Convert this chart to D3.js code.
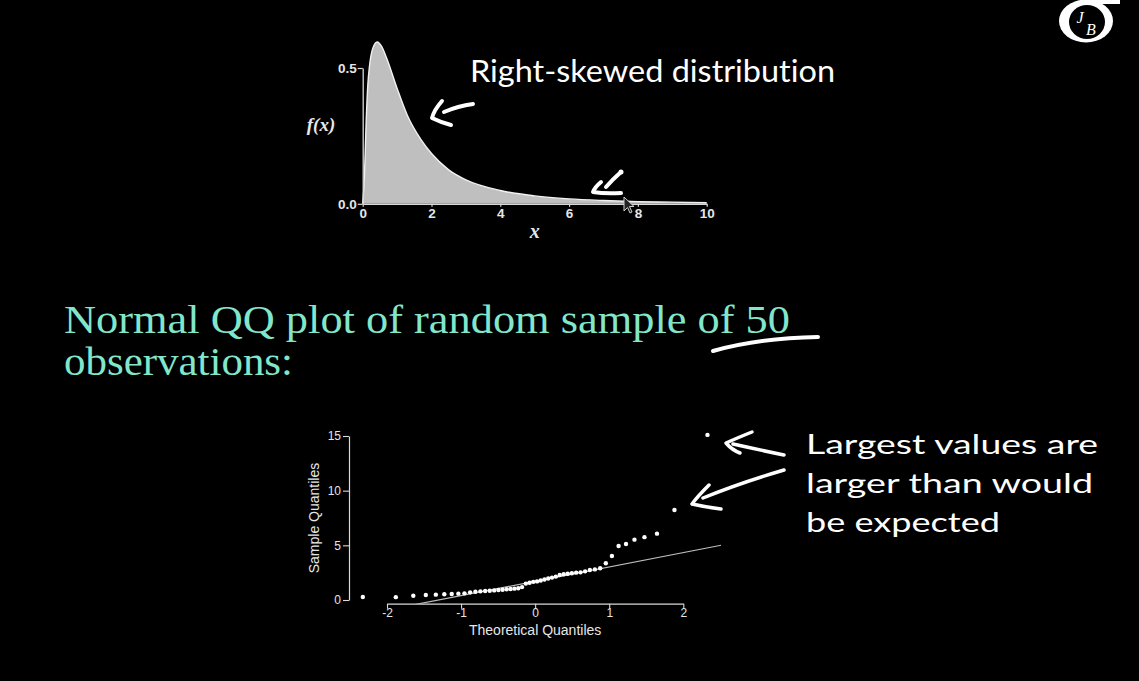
<!DOCTYPE html>
<html>
<head>
<meta charset="utf-8">
<script src="https://cdn.jsdelivr.net/npm/d3@7"></script>
<style>
  html, body { margin: 0; padding: 0; background: #000; }
  svg { display: block; }
</style>
</head>
<body>
<svg id="chart" width="1139" height="681"></svg>
<script>
// ---------- DATA ----------
// Top panel: right-skewed density
const densityX = [0, 0.05, 0.1, 0.15, 0.2, 0.3, 0.42, 0.55, 0.7, 1.0, 1.3, 1.7, 2.0, 2.5, 3.0, 4.0, 5.0, 6.0, 7.0, 8.0, 9.0, 10.0];
const densityY = [0, 0.10, 0.30, 0.44, 0.51, 0.575, 0.596, 0.58, 0.535, 0.425, 0.325, 0.235, 0.185, 0.125, 0.088, 0.049, 0.029, 0.018, 0.012, 0.008, 0.006, 0.004];
const topXTicks = [0, 2, 4, 6, 8, 10];
const topYTicks = [0.0, 0.5];

// Bottom panel: normal QQ plot of 50 observations
const theoreticalQ = [-2.3263, -1.8808, -1.6449, -1.4758, -1.3408, -1.2265, -1.1264, -1.0364, -0.9542, -0.8779,
  -0.8064, -0.7388, -0.6745, -0.6128, -0.5534, -0.4959, -0.4399, -0.3853, -0.3319, -0.2793,
  -0.2275, -0.1764, -0.1257, -0.0753, -0.0251, 0.0251, 0.0753, 0.1257, 0.1764, 0.2275,
  0.2793, 0.3319, 0.3853, 0.4399, 0.4959, 0.5534, 0.6128, 0.6745, 0.7388, 0.8064,
  0.8779, 0.9542, 1.0364, 1.1264, 1.2265, 1.3408, 1.4758, 1.6449, 1.8808, 2.3263];
const sampleQ = [0.28, 0.26, 0.39, 0.46, 0.49, 0.52, 0.55, 0.58, 0.61, 0.70,
  0.76, 0.79, 0.82, 0.85, 0.88, 0.91, 0.94, 0.98, 1.01, 1.04,
  1.07, 1.18, 1.50, 1.58, 1.66, 1.70, 1.78, 1.88, 1.96, 2.05,
  2.14, 2.28, 2.35, 2.40, 2.45, 2.50, 2.53, 2.62, 2.74, 2.80,
  2.90, 3.36, 4.03, 4.94, 5.12, 5.52, 5.75, 6.07, 8.23, 15.1];
const qqXTicks = [-2, -1, 0, 1, 2];
const qqYTicks = [0, 5, 10, 15];
const quartileProbs = [0.25, 0.75];
const quartileNormal = [-0.6745, 0.6745];

// Texts
const topTitle = "Right-skewed distribution";
const heading = ["Normal QQ plot of random sample of 50", "observations:"];
const note = ["Largest values are", "larger than would", "be expected"];

// ---------- DRAW ----------
const svg = d3.select("#chart");
svg.append("rect").attr("width", 1139).attr("height", 681).attr("fill", "#000");

const axisColor = "#d9d9d9";
const tickColor = "#e6e6e6";
const labelFont = "Liberation Sans, Arial, sans-serif";

// ===== Top panel =====
const xT = d3.scaleLinear().domain([0, 10]).range([362.7, 706.7]);
const yT = d3.scaleLinear().domain([0, 0.5]).range([203.8, 68]);
const dens = densityX.map((x, i) => ({x, y: densityY[i]}));

svg.append("path")
  .datum(dens)
  .attr("d", d3.area().x(d => xT(d.x)).y0(yT(0)).y1(d => yT(d.y)).curve(d3.curveMonotoneX))
  .attr("fill", "#bfbfbf");
svg.append("path")
  .datum(dens)
  .attr("d", d3.line().x(d => xT(d.x)).y(d => yT(d.y)).curve(d3.curveMonotoneX))
  .attr("fill", "none").attr("stroke", "#f2f2f2").attr("stroke-width", 1.4);

const gTX = svg.append("g").attr("transform", `translate(0,${yT(0)})`)
  .call(d3.axisBottom(xT).tickValues(topXTicks).tickSize(3).tickSizeOuter(0).tickFormat(d3.format("d")));
const gTY = svg.append("g").attr("transform", `translate(${xT(0)},0)`)
  .call(d3.axisLeft(yT).tickValues(topYTicks).tickSize(5).tickSizeOuter(0).tickFormat(d3.format(".1f")));
[gTX, gTY].forEach(g => {
  g.attr("font-size", null).attr("font-family", null);
  g.selectAll("path.domain").attr("stroke", axisColor).attr("stroke-width", 1.3);
  g.selectAll(".tick line").attr("stroke", axisColor).attr("stroke-width", 1.2);
  g.selectAll(".tick text").attr("fill", tickColor)
    .style("font-family", labelFont).style("font-size", "13.5px").style("font-weight", "bold");
});
gTX.selectAll(".tick text").attr("y", 4).attr("dy", "0.72em");
gTY.selectAll(".tick text").attr("x", -6);

svg.append("text").attr("x", xT(5)).attr("y", 238).attr("text-anchor", "middle")
  .attr("font-family", "Liberation Serif, serif").attr("font-style", "italic").attr("font-weight", "bold")
  .attr("font-size", 20).attr("fill", "#e8e8e8").text("x");
svg.append("text").attr("x", 321).attr("y", 131).attr("text-anchor", "middle")
  .attr("font-family", "Liberation Serif, serif").attr("font-style", "italic").attr("font-weight", "bold")
  .attr("font-size", 19).attr("fill", "#e8e8e8").text("f(x)");

svg.append("text").attr("x", 470).attr("y", 82)
  .attr("font-family", "Lato, Open Sans, sans-serif").attr("font-size", 30)
  .style("font-variant-ligatures", "none")
  .attr("fill", "#ffffff").attr("textLength", 365).attr("lengthAdjust", "spacingAndGlyphs")
  .text(topTitle);

// ===== Heading =====
heading.forEach((t, i) => {
  svg.append("text").attr("x", 64).attr("y", 333 + i * 42)
    .attr("font-family", "Liberation Serif, Times New Roman, serif").attr("font-size", 41)
    .attr("fill", "#82e6cb")
    .attr("textLength", i === 0 ? 726 : 229).attr("lengthAdjust", "spacingAndGlyphs")
    .text(t);
});

// ===== QQ panel =====
const xQ = d3.scaleLinear().domain([-2, 2]).range([387, 683.3]);
const yQ = d3.scaleLinear().domain([0, 15]).range([600, 436]);
const plotLeft = 349, plotRight = 721.1, plotBottom = 603.7, plotTop = 426;

svg.append("defs").append("clipPath").attr("id", "qqclip")
  .append("rect").attr("x", plotLeft).attr("y", plotTop)
  .attr("width", plotRight - plotLeft).attr("height", plotBottom - plotTop);

// qqline through quartiles
const sorted = sampleQ.slice().sort(d3.ascending);
const q1 = d3.quantileSorted(sorted, quartileProbs[0]);
const q3 = d3.quantileSorted(sorted, quartileProbs[1]);
const slope = (q3 - q1) / (quartileNormal[1] - quartileNormal[0]);
const intercept = q1 - slope * quartileNormal[0];
const lx0 = xQ.invert(plotLeft), lx1 = xQ.invert(plotRight);
svg.append("line")
  .attr("clip-path", "url(#qqclip)")
  .attr("x1", xQ(lx0)).attr("y1", yQ(intercept + slope * lx0))
  .attr("x2", xQ(lx1)).attr("y2", yQ(intercept + slope * lx1))
  .attr("stroke", "#bdbdbd").attr("stroke-width", 1.2);

svg.append("g").selectAll("circle")
  .data(theoreticalQ.map((t, i) => ({t, s: sampleQ[i]})))
  .join("circle")
  .attr("cx", d => xQ(d.t)).attr("cy", d => yQ(d.s)).attr("r", 2.2)
  .attr("fill", "#ffffff");

const gQX = svg.append("g").attr("transform", `translate(0,${plotBottom})`)
  .call(d3.axisBottom(xQ).tickValues(qqXTicks).tickSize(5).tickSizeOuter(0).tickFormat(d => d < 0 ? "-" + Math.abs(d) : String(d)));
const gQY = svg.append("g").attr("transform", `translate(${plotLeft},0)`)
  .call(d3.axisLeft(yQ).tickValues(qqYTicks).tickSize(6).tickSizeOuter(0).tickFormat(d3.format("d")));
[gQX, gQY].forEach(g => {
  g.attr("font-size", null).attr("font-family", null);
  g.selectAll("path.domain").attr("stroke", axisColor).attr("stroke-width", 1.2);
  g.selectAll(".tick line").attr("stroke", axisColor).attr("stroke-width", 1.1);
  g.selectAll(".tick text").attr("fill", tickColor)
    .style("font-family", labelFont).style("font-size", "12px");
});
gQX.selectAll(".tick text").attr("y", 4).attr("dy", "0.74em");
gQY.selectAll(".tick text").attr("x", -8);

svg.append("text").attr("x", xQ(0)).attr("y", 635).attr("text-anchor", "middle")
  .attr("font-family", labelFont).attr("font-size", 14).attr("fill", tickColor)
  .text("Theoretical Quantiles");
svg.append("text").attr("transform", `translate(319,${yQ(7.5)}) rotate(-90)`)
  .attr("text-anchor", "middle").attr("font-family", labelFont).attr("font-size", 14)
  .attr("fill", tickColor).text("Sample Quantiles");

// Annotation text
note.forEach((t, i) => {
  svg.append("text").attr("x", 806).attr("y", 454 + i * 39)
    .attr("font-family", "Lato, Open Sans, sans-serif").attr("font-size", 27)
    .attr("fill", "#ffffff")
    .attr("textLength", [292, 287, 194][i]).attr("lengthAdjust", "spacingAndGlyphs")
    .text(t);
});

// ===== Hand-drawn strokes =====
const ink = svg.append("g").attr("fill", "none").attr("stroke", "#ffffff")
  .attr("stroke-linecap", "round").attr("stroke-linejoin", "round");
const strokes = [
  // top panel arrows
  {d: "M473,104 Q458,106 444,112", w: 4},
  {d: "M442,101 Q434,110 432,118 Q440,122 451,125", w: 4},
  {d: "M621,172 Q612,180 606,187", w: 4},
  {d: "M601,182 Q595,187 593,192 Q605,194 621,193", w: 4},
  // underline under 50
  {d: "M713,351 Q760,338 818,337", w: 4},
  // QQ arrows
  {d: "M733,444 Q760,450 784,455", w: 3.5},
  {d: "M752,432 Q737,438 726,443 Q732,450 740,453", w: 3.5},
  {d: "M784,470 Q740,483 703,498", w: 3.5},
  {d: "M709,485 Q697,497 692,504 Q705,507 721,509", w: 3.5}
];
strokes.forEach(s => ink.append("path").attr("d", s.d).attr("stroke-width", s.w));
ink.append("circle").attr("cx", 621).attr("cy", 172).attr("r", 2.5).attr("fill", "#fff").attr("stroke", "none");

// mouse cursor
svg.append("path")
  .attr("d", "M624,197 L624,211 L627.5,207.5 L630,213 L632,212 L629.5,206.5 L634,206.5 Z")
  .attr("fill", "#222").attr("stroke", "#cfcfcf").attr("stroke-width", 1);

// ===== Logo =====
const logo = svg.append("g");
logo.append("ellipse").attr("cx", 1086).attr("cy", 21).attr("rx", 27).attr("ry", 21.5).attr("fill", "#fff");
logo.append("rect").attr("x", 1088).attr("y", 0).attr("width", 32).attr("height", 4).attr("fill", "#fff");
logo.append("ellipse").attr("cx", 1087).attr("cy", 22).attr("rx", 18).attr("ry", 17).attr("fill", "#000");
logo.append("text").attr("x", 1080).attr("y", 23).attr("text-anchor", "middle")
  .attr("font-family", "Liberation Serif, serif").attr("font-style", "italic").attr("font-size", 16)
  .attr("fill", "#fff").text("J");
logo.append("text").attr("x", 1091).attr("y", 35).attr("text-anchor", "middle")
  .attr("font-family", "Liberation Serif, serif").attr("font-style", "italic").attr("font-size", 16)
  .attr("fill", "#fff").text("B");
</script>
</body>
</html>
